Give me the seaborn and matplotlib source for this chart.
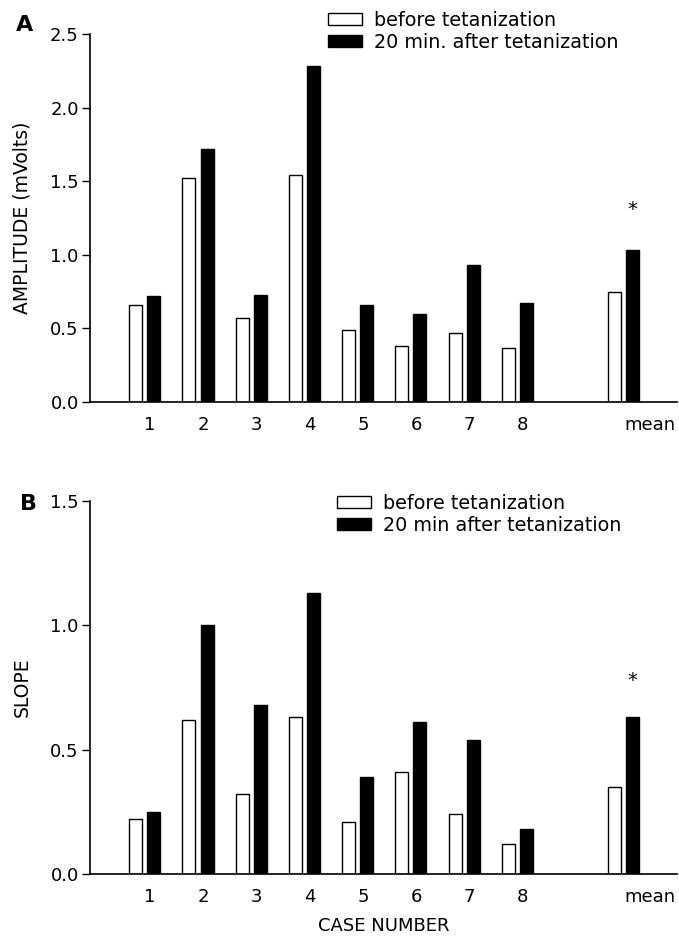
import matplotlib
matplotlib.use("Agg")
import matplotlib.pyplot as plt
import seaborn as sns
import pandas as pd

# case labels (slot " " is the empty gap before the mean)
cases = ["1", "2", "3", "4", "5", "6", "7", "8", "mean"]
slot_order = ["1", "2", "3", "4", "5", "6", "7", "8", " ", "mean"]

# panel A - amplitude (mVolts)
amp_before = [0.66, 1.52, 0.57, 1.54, 0.49, 0.38, 0.47, 0.37, 0.75]
amp_after = [0.72, 1.72, 0.73, 2.28, 0.66, 0.60, 0.93, 0.67, 1.03]
amp_labels = ["before tetanization", "20 min. after tetanization"]

# panel B - slope
slope_before = [0.22, 0.62, 0.32, 0.63, 0.21, 0.41, 0.24, 0.12, 0.35]
slope_after = [0.25, 1.00, 0.68, 1.13, 0.39, 0.61, 0.54, 0.18, 0.63]
slope_labels = ["before tetanization", "20 min after tetanization"]

amp_ticks = [0.0, 0.5, 1.0, 1.5, 2.0, 2.5]
slope_ticks = [0.0, 0.5, 1.0, 1.5]

sns.set_style("ticks")
plt.rcParams["font.family"] = ["DejaVu Sans"]
plt.rcParams["font.size"] = 12
for key in ["text.color", "axes.labelcolor", "xtick.color", "ytick.color", "axes.edgecolor"]:
    plt.rcParams[key] = "black"


def make_frame(before, after, labels):
    df = pd.DataFrame({"case": cases * 2,
                       "value": before + after,
                       "group": [labels[0]] * len(cases) + [labels[1]] * len(cases)})
    return df


def draw_panel(ax, before, after, labels, ticks, ylabel, star_y, leg_anchor):
    df = make_frame(before, after, labels)
    sns.barplot(data=df, x="case", y="value", hue="group", order=slot_order,
                hue_order=labels, palette=["white", "black"], saturation=1,
                edgecolor="black", linewidth=1.0, width=0.68, gap=0.28, ax=ax)

    ax.set_xlim(-1.03, 10.0)
    ax.set_ylim(ticks[0], ticks[-1])
    ax.set_yticks(ticks)
    ax.set_yticklabels(["%.1f" % t for t in ticks], fontsize=13)
    ax.set_xticks([i + 0.1 for i in range(8)] + [9.5])
    ax.set_xticklabels(cases, fontsize=13)
    ax.tick_params(axis="x", length=0, pad=10)
    ax.tick_params(axis="y", length=6, width=1, pad=2, direction="out")
    ax.set_ylabel(ylabel, fontsize=13.5)
    ax.yaxis.set_label_coords(-0.1, 0.5)
    ax.set_xlabel("")
    sns.despine(ax=ax)
    for s in ["left", "bottom"]:
        ax.spines[s].set_linewidth(1.2)

    # significance star over the mean
    ax.text(9.17, star_y, "*", ha="center", va="center", fontsize=14)

    handles, lbls = ax.get_legend_handles_labels()
    ax.legend(handles, lbls, loc="upper left", bbox_to_anchor=leg_anchor,
              bbox_transform=fig.transFigure, frameon=False, fontsize=13.8,
              handlelength=1.75, handleheight=0.6, handletextpad=0.65,
              labelspacing=0.15, borderpad=0, borderaxespad=0)


fig = plt.figure(figsize=(6.79, 9.42), dpi=100)
ax_a = fig.add_axes([0.1325, 0.5732, 0.8645, 0.3907])
ax_b = fig.add_axes([0.1325, 0.0722, 0.8645, 0.3960])

draw_panel(ax_a, amp_before, amp_after, amp_labels, amp_ticks,
           "AMPLITUDE (mVolts)", 1.31, (328 / 679, 1 - 11 / 942))
draw_panel(ax_b, slope_before, slope_after, slope_labels, slope_ticks,
           "SLOPE", 0.78, (337 / 679, 1 - 494 / 942))

ax_b.set_xlabel("CASE NUMBER", fontsize=13, labelpad=8)

fig.text(25 / 679, 1 - 25 / 942, "A", fontsize=16, fontweight="bold", ha="center", va="center")
fig.text(28 / 679, 1 - 504 / 942, "B", fontsize=16, fontweight="bold", ha="center", va="center")

fig.savefig("out.png", dpi=100)
